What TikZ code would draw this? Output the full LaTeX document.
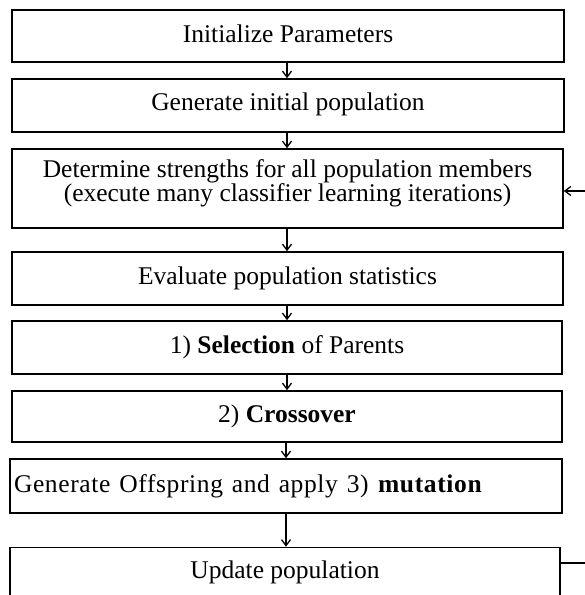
\documentclass[tikz,border=0pt]{standalone}
\usepackage{fontspec}
\setmainfont{Liberation Serif}
\usetikzlibrary{arrows.meta}
\begin{document}
\begin{tikzpicture}[x=1pt,y=-1pt,
  box/.style={draw, line width=1.6pt, rectangle, inner sep=0pt, align=center,
    font=\fontsize{25.5}{23.5}\selectfont},
  flow/.style={line width=1.3pt, -{Straight Barb[length=6pt,width=9pt,line width=1.3pt]}},
  link/.style={line width=1.6pt}]
  \clip (0,0) rectangle (585,595);

  % flow chart steps, top to bottom
  \node[box, minimum width=552pt, minimum height=52pt, text depth=4pt] (init) at (288,36) {Initialize Parameters};
  \node[box, minimum width=552pt, minimum height=53pt, text depth=8pt] (gen) at (288,105.5) {Generate initial population};
  \node[box, minimum width=551pt, minimum height=79pt, text depth=16pt] (strength) at (287.5,188.5)
    {Determine strengths for all population members\\(execute many classifier learning iterations)};
  \node[box, minimum width=551pt, minimum height=53pt] (eval) at (287.5,278.5) {Evaluate population statistics};
  \node[box, minimum width=550pt, minimum height=53pt] (sel) at (287,347.5) {1) \textbf{Selection} of Parents};
  \node[box, minimum width=550pt, minimum height=51pt] (cross) at (287,416.5) {2) \textbf{Crossover}};
  \node[box, minimum width=552pt, minimum height=54pt, text width=544pt, align=left,
    inner xsep=4pt] (mut) at (286,486)
    {\addfontfeature{LetterSpace=2.5}\spaceskip=8.8pt plus 1pt Generate Offspring and apply 3) \textbf{mutation}};
  \node[box, minimum width=550pt, text height=24pt, text depth=65pt, inner ysep=7pt] (update)
    at (285,599) {Update population};

  % loop ends at the right border
  \coordinate (loopin) at (585,191);
  \coordinate (loopout) at (585,563);

  % connectors
  \draw[flow] (init.south -| 287,0) -- (gen.north -| 287,0);
  \draw[flow] (gen.south -| 287,0) -- (strength.north -| 287,0);
  \draw[flow] (strength.south -| 287,0) -- (eval.north -| 287,0);
  \draw[flow] (eval.south -| 287,0) -- (sel.north -| 287,0);
  \draw[flow] (sel.south -| 287,0) -- (cross.north -| 287,0);
  \draw[flow] (cross.south -| 286,0) -- (mut.north -| 286,0);
  \draw[flow, line width=2.2pt] (mut.south -| 286,0) -- (update.north -| 286,0);
  \draw[flow] (loopin) -- (loopin -| strength.east);
  \draw[link] (loopout -| update.east) -- (loopout);
\end{tikzpicture}
\end{document}
